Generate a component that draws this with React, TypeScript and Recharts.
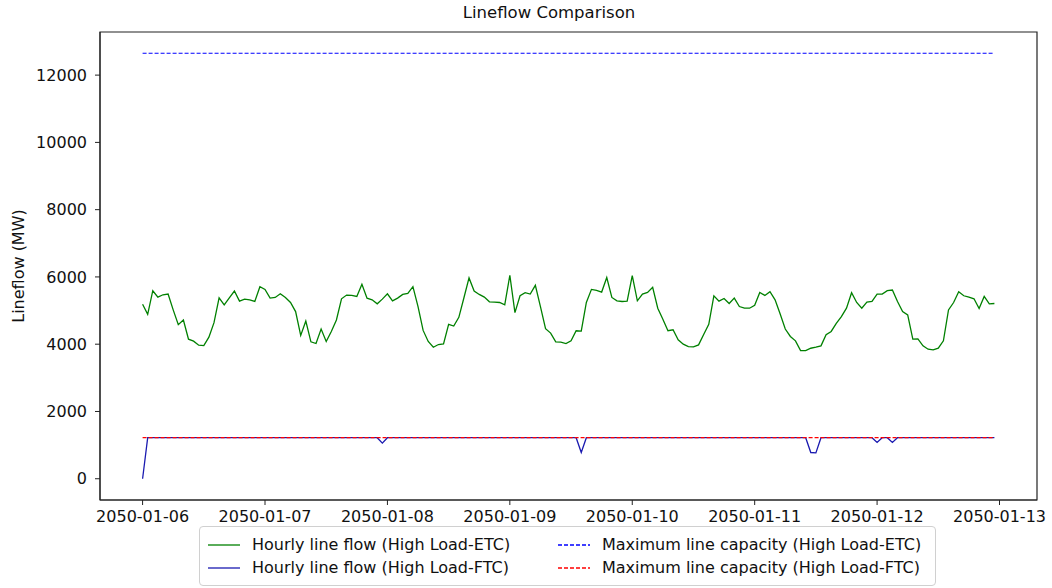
import {
  LineChart,
  Line,
  XAxis,
  YAxis,
  Legend,
  ReferenceArea,
} from 'recharts';

// one label per day tick (hour 0, 24, 48 ...)
const dayLabels = [
  '2050-01-06', '2050-01-07', '2050-01-08', '2050-01-09',
  '2050-01-10', '2050-01-11', '2050-01-12', '2050-01-13',
];
const dayTicks = [0, 24, 48, 72, 96, 120, 144, 168];
const yTicks = [0, 2000, 4000, 6000, 8000, 10000, 12000];

// hourly line flow, High Load-ETC (MW), one row per day
const etcFlow = [
  5190, 4890, 5590, 5400, 5470, 5490, 5020, 4580, 4720, 4150, 4090, 3970, 3960, 4210, 4640, 5380, 5170, 5380, 5580, 5280, 5340, 5320, 5270, 5710,
  5630, 5370, 5390, 5500, 5390, 5240, 4970, 4260, 4690, 4070, 4020, 4450, 4080, 4380, 4720, 5350, 5460, 5450, 5420, 5780, 5370, 5320, 5200, 5340,
  5500, 5290, 5370, 5480, 5510, 5710, 5120, 4410, 4080, 3910, 3990, 4010, 4590, 4540, 4800, 5380, 5970, 5580, 5480, 5400, 5260, 5250, 5240, 5170,
  6050, 4940, 5440, 5530, 5490, 5750, 5120, 4460, 4330, 4070, 4060, 4020, 4100, 4400, 4390, 5240, 5630, 5600, 5550, 5980, 5390, 5290, 5270, 5280,
  6040, 5290, 5490, 5540, 5690, 5070, 4740, 4400, 4430, 4130, 4000, 3930, 3920, 3980, 4290, 4590, 5440, 5280, 5360, 5210, 5370, 5120, 5070, 5070,
  5160, 5540, 5450, 5560, 5320, 4900, 4450, 4230, 4100, 3810, 3810, 3880, 3910, 3950, 4280, 4380, 4620, 4820, 5070, 5530, 5240, 5070, 5250, 5270,
  5490, 5490, 5590, 5610, 5270, 4970, 4870, 4150, 4160, 3950, 3850, 3830, 3880, 4100, 5020, 5240, 5560, 5440, 5400, 5350, 5060, 5420, 5200, 5210,
];

// hourly line flow, High Load-FTC (MW)
const ftcFlow = [
  0, 1220, 1220, 1220, 1220, 1220, 1220, 1220, 1220, 1220, 1220, 1220, 1220, 1220, 1220, 1220, 1220, 1220, 1220, 1220, 1220, 1220, 1220, 1220,
  1220, 1220, 1220, 1220, 1220, 1220, 1220, 1220, 1220, 1220, 1220, 1220, 1220, 1220, 1220, 1220, 1220, 1220, 1220, 1220, 1220, 1220, 1220, 1060,
  1220, 1220, 1220, 1220, 1220, 1220, 1220, 1220, 1220, 1220, 1220, 1220, 1220, 1220, 1220, 1220, 1220, 1220, 1220, 1220, 1220, 1220, 1220, 1220,
  1220, 1220, 1220, 1220, 1220, 1220, 1220, 1220, 1220, 1220, 1220, 1220, 1220, 1220, 780, 1220, 1220, 1220, 1220, 1220, 1220, 1220, 1220, 1220,
  1220, 1220, 1220, 1220, 1220, 1220, 1220, 1220, 1220, 1220, 1220, 1220, 1220, 1220, 1220, 1220, 1220, 1220, 1220, 1220, 1220, 1220, 1220, 1220,
  1220, 1220, 1220, 1220, 1220, 1220, 1220, 1220, 1220, 1220, 1220, 780, 770, 1220, 1220, 1220, 1220, 1220, 1220, 1220, 1220, 1220, 1220, 1220,
  1080, 1220, 1220, 1080, 1220, 1220, 1220, 1220, 1220, 1220, 1220, 1220, 1220, 1220, 1220, 1220, 1220, 1220, 1220, 1220, 1220, 1220, 1220, 1220,
];

const etcCapacity = 12650;
const ftcCapacity = 1220;

const data = etcFlow.map((v, i) => ({
  hour: i,
  etc: v,
  ftc: ftcFlow[i],
  etcCap: etcCapacity,
  ftcCap: ftcCapacity,
}));

const xDomain = [-8.35, 175.35];
const yDomain = [-632, 13282];
const font = '"DejaVu Sans", sans-serif';

const legendItems = [
  { label: 'Hourly line flow (High Load-ETC)', color: 'green', dash: undefined },
  { label: 'Maximum line capacity (High Load-ETC)', color: 'blue', dash: '4 2' },
  { label: 'Hourly line flow (High Load-FTC)', color: '#1a1ab0', dash: undefined },
  { label: 'Maximum line capacity (High Load-FTC)', color: 'red', dash: '4 2' },
];

function LegendBox() {
  return (
    <div
      style={{
        border: '1px solid #d0d0d0',
        borderRadius: 4,
        background: '#fff',
        display: 'grid',
        gridTemplateColumns: '350px auto',
        rowGap: 2,
        padding: '7px 14px 7px 8px',
        fontFamily: font,
        fontSize: 16,
        color: '#111',
      }}
    >
      {legendItems.map((it) => (
        <div key={it.label} style={{ display: 'flex', alignItems: 'center', height: 21 }}>
          <svg width={32} height={10} style={{ marginRight: 12 }}>
            <line x1={0} y1={5} x2={32} y2={5} stroke={it.color} strokeWidth={1.3} strokeDasharray={it.dash} />
          </svg>
          <span style={{ whiteSpace: 'nowrap' }}>{it.label}</span>
        </div>
      ))}
    </div>
  );
}

export default function App() {
  return (
    <div style={{ position: 'absolute', left: 0, top: 0, width: 1052, height: 588, background: '#fff' }}>
      <div
        style={{
          position: 'absolute',
          top: 3,
          left: 449,
          width: 200,
          textAlign: 'center',
          fontFamily: font,
          fontSize: 16.5,
          color: '#111',
        }}
      >
        Lineflow Comparison
      </div>
      <LineChart
        width={1052}
        height={588}
        data={data}
        margin={{ top: 32, right: 15, left: 0, bottom: 58 }}
      >
        <XAxis
          dataKey="hour"
          type="number"
          domain={xDomain}
          ticks={dayTicks}
          tickFormatter={(h) => dayLabels[h / 24]}
          allowDataOverflow
          height={30}
          tickSize={5}
          tickMargin={6}
          stroke="#222"
          tick={{ fill: '#111', fontSize: 16, fontFamily: font }}
        />
        <YAxis
          type="number"
          domain={yDomain}
          ticks={yTicks}
          allowDataOverflow
          width={100}
          tickSize={5}
          tickMargin={8}
          stroke="#222"
          tick={{ fill: '#111', fontSize: 16, fontFamily: font }}
          label={(props: any) => {
            const vb = props.viewBox || {};
            const cy = vb.y !== undefined ? vb.y + vb.height / 2 : 266;
            return (
              <text
                x={18}
                y={cy}
                transform={`rotate(-90, 18, ${cy})`}
                textAnchor="middle"
                dominantBaseline="central"
                fontSize={16}
                fontFamily={font}
                fill="#111"
              >
                Lineflow (MW)
              </text>
            );
          }}
        />
        {/* frame around the plot area */}
        <ReferenceArea
          x1={xDomain[0]}
          x2={xDomain[1]}
          y1={yDomain[0]}
          y2={yDomain[1]}
          fill="none"
          fillOpacity={0}
          stroke="#222"
          strokeWidth={1.2}
          ifOverflow="visible"
        />
        <Line type="linear" dataKey="etc" stroke="green" strokeWidth={1.3} dot={false} isAnimationActive={false} />
        <Line type="linear" dataKey="ftc" stroke="#1a1ab0" strokeWidth={1.3} dot={false} isAnimationActive={false} />
        <Line type="linear" dataKey="etcCap" stroke="blue" strokeWidth={1.2} strokeDasharray="4 2" dot={false} isAnimationActive={false} />
        <Line type="linear" dataKey="ftcCap" stroke="red" strokeWidth={1.2} strokeDasharray="4 2" dot={false} isAnimationActive={false} />
        <Legend
          layout="horizontal"
          verticalAlign="middle"
          align="center"
          wrapperStyle={{ position: 'absolute', left: 199, top: 526, width: 'auto' }}
          content={() => <LegendBox />}
        />
      </LineChart>
    </div>
  );
}
